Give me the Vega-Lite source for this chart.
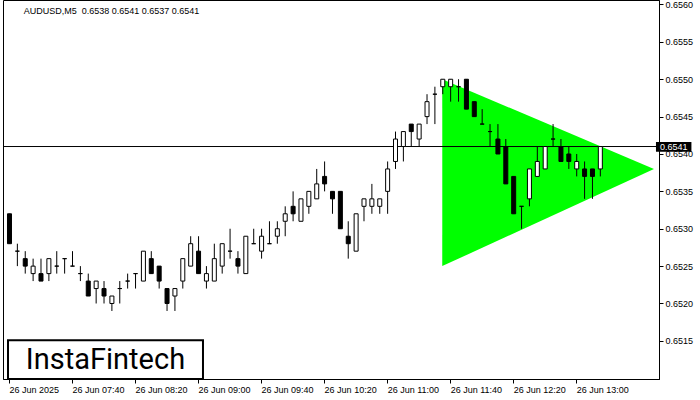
{
  "$schema": "https://vega.github.io/schema/vega-lite/v6.json",
  "width": 656,
  "height": 379,
  "autosize": "none",
  "padding": {"left": 3, "top": 0, "right": 41, "bottom": 21},
  "background": "white",
  "config": {"view": {"stroke": "black", "strokeWidth": 1}, "font": "Liberation Sans"},
  "datasets": {
    "candles": [
      {"t":"2025-06-26T07:00:00Z","o":0.6532,"h":0.6532,"l":0.6528,"c":0.6528},
      {"t":"2025-06-26T07:05:00Z","o":0.6527,"h":0.6528,"l":0.6525,"c":0.6527},
      {"t":"2025-06-26T07:10:00Z","o":0.6526,"h":0.6527,"l":0.6524,"c":0.6525},
      {"t":"2025-06-26T07:15:00Z","o":0.6524,"h":0.6526,"l":0.6523,"c":0.6525},
      {"t":"2025-06-26T07:20:00Z","o":0.6524,"h":0.6526,"l":0.6523,"c":0.6523},
      {"t":"2025-06-26T07:25:00Z","o":0.6524,"h":0.6526,"l":0.6523,"c":0.6526},
      {"t":"2025-06-26T07:30:00Z","o":0.6525,"h":0.6527,"l":0.6524,"c":0.6525},
      {"t":"2025-06-26T07:35:00Z","o":0.6526,"h":0.6526,"l":0.6524,"c":0.6526},
      {"t":"2025-06-26T07:40:00Z","o":0.6525,"h":0.6527,"l":0.6525,"c":0.6525},
      {"t":"2025-06-26T07:45:00Z","o":0.6524,"h":0.6525,"l":0.6523,"c":0.6524},
      {"t":"2025-06-26T07:50:00Z","o":0.6523,"h":0.6524,"l":0.6521,"c":0.6521},
      {"t":"2025-06-26T07:55:00Z","o":0.6522,"h":0.6523,"l":0.6520,"c":0.6523},
      {"t":"2025-06-26T08:00:00Z","o":0.6522,"h":0.6523,"l":0.6520,"c":0.6521},
      {"t":"2025-06-26T08:05:00Z","o":0.6520,"h":0.6521,"l":0.6519,"c":0.6521},
      {"t":"2025-06-26T08:10:00Z","o":0.6522,"h":0.6523,"l":0.6520,"c":0.6522},
      {"t":"2025-06-26T08:15:00Z","o":0.6523,"h":0.6524,"l":0.6522,"c":0.6523},
      {"t":"2025-06-26T08:20:00Z","o":0.6524,"h":0.6524,"l":0.6522,"c":0.6524},
      {"t":"2025-06-26T08:25:00Z","o":0.6523,"h":0.6527,"l":0.6523,"c":0.6527},
      {"t":"2025-06-26T08:30:00Z","o":0.6526,"h":0.6527,"l":0.6524,"c":0.6524},
      {"t":"2025-06-26T08:35:00Z","o":0.6525,"h":0.6525,"l":0.6522,"c":0.6523},
      {"t":"2025-06-26T08:40:00Z","o":0.6522,"h":0.6522,"l":0.6519,"c":0.6520},
      {"t":"2025-06-26T08:45:00Z","o":0.6521,"h":0.6522,"l":0.6519,"c":0.6522},
      {"t":"2025-06-26T08:50:00Z","o":0.6523,"h":0.6526,"l":0.6522,"c":0.6526},
      {"t":"2025-06-26T08:55:00Z","o":0.6525,"h":0.6529,"l":0.6525,"c":0.6528},
      {"t":"2025-06-26T09:00:00Z","o":0.6527,"h":0.6529,"l":0.6524,"c":0.6524},
      {"t":"2025-06-26T09:05:00Z","o":0.6523,"h":0.6525,"l":0.6522,"c":0.6524},
      {"t":"2025-06-26T09:10:00Z","o":0.6523,"h":0.6528,"l":0.6523,"c":0.6526},
      {"t":"2025-06-26T09:15:00Z","o":0.6525,"h":0.6528,"l":0.6524,"c":0.6528},
      {"t":"2025-06-26T09:20:00Z","o":0.6527,"h":0.6530,"l":0.6526,"c":0.6527},
      {"t":"2025-06-26T09:25:00Z","o":0.6526,"h":0.6527,"l":0.6524,"c":0.6525},
      {"t":"2025-06-26T09:30:00Z","o":0.6524,"h":0.6529,"l":0.6524,"c":0.6529},
      {"t":"2025-06-26T09:35:00Z","o":0.6528,"h":0.6530,"l":0.6528,"c":0.6528},
      {"t":"2025-06-26T09:40:00Z","o":0.6527,"h":0.6530,"l":0.6526,"c":0.6529},
      {"t":"2025-06-26T09:45:00Z","o":0.6528,"h":0.6531,"l":0.6528,"c":0.6528},
      {"t":"2025-06-26T09:50:00Z","o":0.6529,"h":0.6531,"l":0.6528,"c":0.6530},
      {"t":"2025-06-26T09:55:00Z","o":0.6531,"h":0.6533,"l":0.6529,"c":0.6532},
      {"t":"2025-06-26T10:00:00Z","o":0.6533,"h":0.6535,"l":0.6531,"c":0.6532},
      {"t":"2025-06-26T10:05:00Z","o":0.6531,"h":0.6534,"l":0.6531,"c":0.6534},
      {"t":"2025-06-26T10:10:00Z","o":0.6533,"h":0.6535,"l":0.6532,"c":0.6535},
      {"t":"2025-06-26T10:15:00Z","o":0.6534,"h":0.6538,"l":0.6534,"c":0.6536},
      {"t":"2025-06-26T10:20:00Z","o":0.6537,"h":0.6539,"l":0.6535,"c":0.6536},
      {"t":"2025-06-26T10:25:00Z","o":0.6535,"h":0.6535,"l":0.6532,"c":0.6534},
      {"t":"2025-06-26T10:30:00Z","o":0.6535,"h":0.6535,"l":0.6530,"c":0.6530},
      {"t":"2025-06-26T10:35:00Z","o":0.6529,"h":0.6531,"l":0.6526,"c":0.6528},
      {"t":"2025-06-26T10:40:00Z","o":0.6527,"h":0.6532,"l":0.6527,"c":0.6532},
      {"t":"2025-06-26T10:45:00Z","o":0.6533,"h":0.6534,"l":0.6531,"c":0.6534},
      {"t":"2025-06-26T10:50:00Z","o":0.6533,"h":0.6536,"l":0.6532,"c":0.6534},
      {"t":"2025-06-26T10:55:00Z","o":0.6533,"h":0.6534,"l":0.6532,"c":0.6534},
      {"t":"2025-06-26T11:00:00Z","o":0.6535,"h":0.6539,"l":0.6532,"c":0.6538},
      {"t":"2025-06-26T11:05:00Z","o":0.6539,"h":0.6543,"l":0.6538,"c":0.6542},
      {"t":"2025-06-26T11:10:00Z","o":0.6541,"h":0.6543,"l":0.6539,"c":0.6543},
      {"t":"2025-06-26T11:15:00Z","o":0.6544,"h":0.6544,"l":0.6541,"c":0.6543},
      {"t":"2025-06-26T11:20:00Z","o":0.6542,"h":0.6544,"l":0.6541,"c":0.6544},
      {"t":"2025-06-26T11:25:00Z","o":0.6545,"h":0.6548,"l":0.6544,"c":0.6547},
      {"t":"2025-06-26T11:30:00Z","o":0.6548,"h":0.6549,"l":0.6544,"c":0.6548},
      {"t":"2025-06-26T11:35:00Z","o":0.6549,"h":0.6550,"l":0.6548,"c":0.6550},
      {"t":"2025-06-26T11:40:00Z","o":0.6549,"h":0.6550,"l":0.6547,"c":0.6550},
      {"t":"2025-06-26T11:45:00Z","o":0.6549,"h":0.6550,"l":0.6547,"c":0.6549},
      {"t":"2025-06-26T11:50:00Z","o":0.6550,"h":0.6550,"l":0.6546,"c":0.6546},
      {"t":"2025-06-26T11:55:00Z","o":0.6547,"h":0.6547,"l":0.6545,"c":0.6545},
      {"t":"2025-06-26T12:00:00Z","o":0.6544,"h":0.6546,"l":0.6544,"c":0.6544},
      {"t":"2025-06-26T12:05:00Z","o":0.6543,"h":0.6544,"l":0.6541,"c":0.6543},
      {"t":"2025-06-26T12:10:00Z","o":0.6542,"h":0.6544,"l":0.6540,"c":0.6540},
      {"t":"2025-06-26T12:15:00Z","o":0.6541,"h":0.6542,"l":0.6536,"c":0.6536},
      {"t":"2025-06-26T12:20:00Z","o":0.6537,"h":0.6537,"l":0.6532,"c":0.6532},
      {"t":"2025-06-26T12:25:00Z","o":0.6533,"h":0.6533,"l":0.6530,"c":0.6533},
      {"t":"2025-06-26T12:30:00Z","o":0.6534,"h":0.6538,"l":0.6533,"c":0.6538},
      {"t":"2025-06-26T12:35:00Z","o":0.6537,"h":0.6541,"l":0.6537,"c":0.6539},
      {"t":"2025-06-26T12:40:00Z","o":0.6538,"h":0.6541,"l":0.6538,"c":0.6541},
      {"t":"2025-06-26T12:45:00Z","o":0.6542,"h":0.6544,"l":0.6541,"c":0.6542},
      {"t":"2025-06-26T12:50:00Z","o":0.6541,"h":0.6542,"l":0.6539,"c":0.6539},
      {"t":"2025-06-26T12:55:00Z","o":0.6540,"h":0.6541,"l":0.6538,"c":0.6539},
      {"t":"2025-06-26T13:00:00Z","o":0.6538,"h":0.6540,"l":0.6537,"c":0.6539},
      {"t":"2025-06-26T13:05:00Z","o":0.6538,"h":0.6539,"l":0.6534,"c":0.6537},
      {"t":"2025-06-26T13:10:00Z","o":0.6538,"h":0.6538,"l":0.6534,"c":0.6537},
      {"t":"2025-06-26T13:15:00Z","o":0.6538,"h":0.6541,"l":0.6537,"c":0.6541}
    ],
    "tri": [
      {"t":"2025-06-26T11:35:00Z","top":0.6550,"bot":0.6525},
      {"t":"2025-06-26T13:49:22Z","top":0.6538,"bot":0.6538}
    ],
    "level": [{"p": 0.6541}],
    "header": [{"t": 1750921762500, "p": 0.65587, "label": "AUDUSD,M5\u00a0 0.6538 0.6541 0.6537 0.6541"}],
    "logo": [{"t": 1750921162500, "t2": 1750928587500, "p1": 0.65099, "p2": 0.65151, "tc": 1750924875000, "pc": 0.65124, "label": "InstaFintech"}],
    "tag": [{"t": 1750945837500, "t2": 1750947187500, "p1": 0.65403, "p2": 0.65416, "tc": 1750946512500, "p": 0.6541, "label": "0.6541"}]
  },
  "layer": [
    {
      "data": {"name": "tri"},
      "mark": {"type": "area", "fill": "#00ff00", "orient": "vertical", "interpolate": "linear"},
      "encoding": {
        "x": {"field": "t", "type": "temporal", "title": null,
              "scale": {"type": "utc", "domain": [1750921162500, 1750945762500]},
              "axis": {"values": [1750921200000, 1750923600000, 1750926000000, 1750928400000, 1750930800000, 1750933200000, 1750935600000, 1750938000000, 1750940400000, 1750942800000],
                       "labelExpr": "utcFormat(datum.value, '%H:%M') == '07:00' ? '26 Jun 2025' : utcFormat(datum.value, '%d %b %H:%M')",
                       "labelAlign": "left", "labelBaseline": "top", "labelPadding": 2, "labelDx": -1,
                       "labelFontSize": 9, "labelFont": "Liberation Sans", "labelColor": "black",
                       "tickSize": 4, "tickColor": "black", "domainColor": "black", "grid": false, "labelOverlap": false, "labelFlush": false}},
        "y": {"field": "top", "type": "quantitative", "title": null,
              "scale": {"domain": [0.65099, 0.65606], "nice": false, "zero": false},
              "axis": {"orient": "right", "values": [0.6515, 0.652, 0.6525, 0.653, 0.6535, 0.654, 0.6545, 0.655, 0.6555, 0.656],
                       "format": ".4f", "labelFontSize": 9, "labelFont": "Liberation Sans", "labelColor": "black",
                       "tickSize": 4, "tickColor": "black", "domainColor": "black", "labelPadding": 2, "grid": false, "labelOverlap": false, "labelFlush": false}},
        "y2": {"field": "bot"}
      }
    },
    {
      "data": {"name": "level"},
      "mark": {"type": "rule", "color": "black", "strokeWidth": 1},
      "encoding": {
        "y": {"field": "p", "type": "quantitative", "title": null, "scale": {"domain": [0.65099, 0.65606], "nice": false, "zero": false}}
      }
    },
    {
      "data": {"name": "candles"},
      "mark": {"type": "rule", "color": "black", "strokeWidth": 1, "xOffset": 0.5},
      "encoding": {
        "x": {"field": "t", "type": "temporal", "title": null, "scale": {"type": "utc", "domain": [1750921162500, 1750945762500]}},
        "y": {"field": "l", "type": "quantitative", "title": null, "scale": {"domain": [0.65099, 0.65606], "nice": false, "zero": false}},
        "y2": {"field": "h"}
      }
    },
    {
      "data": {"name": "candles"},
      "mark": {"type": "bar", "width": 4, "stroke": "black", "strokeWidth": 1, "xOffset": 0.5},
      "encoding": {
        "x": {"field": "t", "type": "temporal", "title": null, "scale": {"type": "utc", "domain": [1750921162500, 1750945762500]}},
        "y": {"field": "o", "type": "quantitative", "title": null, "scale": {"domain": [0.65099, 0.65606], "nice": false, "zero": false}},
        "y2": {"field": "c"},
        "fill": {"condition": {"test": "datum.c > datum.o", "value": "white"}, "value": "black"}
      }
    },
    {
      "data": {"name": "header"},
      "mark": {"type": "text", "font": "Liberation Sans", "fontSize": 9, "color": "black", "align": "left", "baseline": "alphabetic"},
      "encoding": {
        "x": {"field": "t", "type": "temporal", "title": null, "scale": {"type": "utc", "domain": [1750921162500, 1750945762500]}},
        "y": {"field": "p", "type": "quantitative", "title": null, "scale": {"domain": [0.65099, 0.65606], "nice": false, "zero": false}},
        "text": {"field": "label"}
      }
    },
    {
      "data": {"name": "logo"},
      "mark": {"type": "rect", "fill": "white", "stroke": "black", "strokeWidth": 2},
      "encoding": {
        "x": {"field": "t", "type": "temporal", "title": null, "scale": {"type": "utc", "domain": [1750921162500, 1750945762500]}},
        "x2": {"field": "t2"},
        "y": {"field": "p1", "type": "quantitative", "title": null, "scale": {"domain": [0.65099, 0.65606], "nice": false, "zero": false}},
        "y2": {"field": "p2"}
      }
    },
    {
      "data": {"name": "logo"},
      "mark": {"type": "text", "font": "Roboto", "fontSize": 29, "color": "black", "align": "center", "baseline": "middle"},
      "encoding": {
        "x": {"field": "tc", "type": "temporal", "title": null, "scale": {"type": "utc", "domain": [1750921162500, 1750945762500]}},
        "y": {"field": "pc", "type": "quantitative", "title": null, "scale": {"domain": [0.65099, 0.65606], "nice": false, "zero": false}},
        "text": {"field": "label"}
      }
    },
    {
      "data": {"name": "tag"},
      "mark": {"type": "rect", "fill": "black"},
      "encoding": {
        "x": {"field": "t", "type": "temporal", "title": null, "scale": {"type": "utc", "domain": [1750921162500, 1750945762500]}},
        "x2": {"field": "t2"},
        "y": {"field": "p1", "type": "quantitative", "title": null, "scale": {"domain": [0.65099, 0.65606], "nice": false, "zero": false}},
        "y2": {"field": "p2"}
      }
    },
    {
      "data": {"name": "tag"},
      "mark": {"type": "text", "font": "Liberation Sans", "fontSize": 9, "color": "white", "align": "center", "baseline": "middle"},
      "encoding": {
        "x": {"field": "tc", "type": "temporal", "title": null, "scale": {"type": "utc", "domain": [1750921162500, 1750945762500]}},
        "y": {"field": "p", "type": "quantitative", "title": null, "scale": {"domain": [0.65099, 0.65606], "nice": false, "zero": false}},
        "text": {"field": "label"}
      }
    }
  ]
}
